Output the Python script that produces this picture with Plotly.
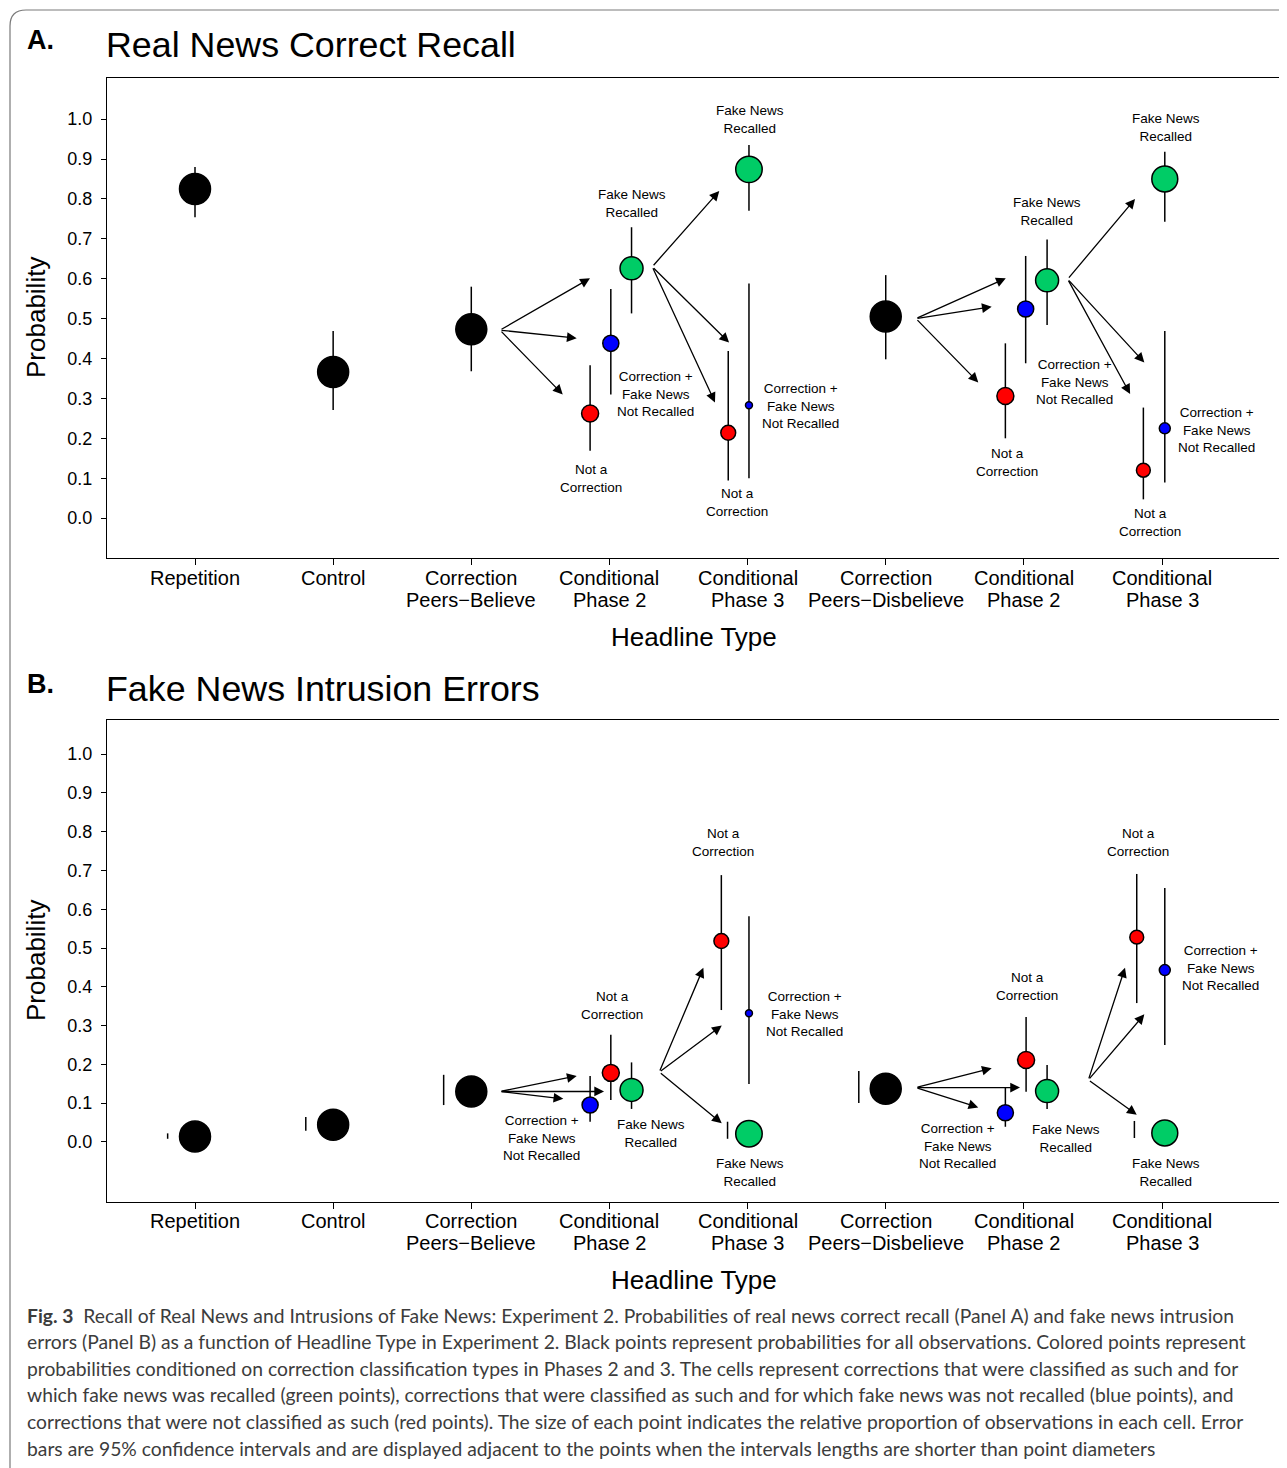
import plotly.graph_objects as go

W, H = 1287, 1468
OFF = 8  # page body margin in the browser

# ---------------- data ----------------
CATEGORIES = ["Repetition", "Control", "Correction<br>Peers\u2212Believe",
              "Conditional<br>Phase 2", "Conditional<br>Phase 3",
              "Correction<br>Peers\u2212Disbelieve", "Conditional<br>Phase 2",
              "Conditional<br>Phase 3"]
Y_TICKS = [0.0, 0.1, 0.2, 0.3, 0.4, 0.5, 0.6, 0.7, 0.8, 0.9, 1.0]

# one entry per point (same cells in both panels)
POINT_CAT = [1, 2, 3, 4, 4, 4, 5, 5, 5, 6, 7, 7, 7, 8, 8, 8]
POINT_TYPE = ["all", "all", "all",
              "notcorr", "notrec", "rec",
              "notcorr", "notrec", "rec",
              "all",
              "notcorr", "notrec", "rec",
              "notcorr", "notrec", "rec"]
# relative proportion of observations in each cell
CELL_SHARE = [1.0, 1.0, 1.0,
              0.30, 0.27, 0.55,
              0.23, 0.05, 0.73,
              1.0,
              0.30, 0.27, 0.55,
              0.20, 0.126, 0.70]

# Panel A: real news correct recall
A_PROB = [0.825, 0.366, 0.473, 0.262, 0.438, 0.626, 0.214, 0.283, 0.874,
          0.505, 0.306, 0.524, 0.596, 0.120, 0.225, 0.850]
A_LO = [0.754, 0.271, 0.368, 0.169, 0.310, 0.513, 0.094, 0.100, 0.770,
        0.398, 0.200, 0.388, 0.484, 0.047, 0.089, 0.743]
A_HI = [0.880, 0.469, 0.580, 0.383, 0.574, 0.729, 0.419, 0.588, 0.935,
        0.609, 0.438, 0.657, 0.698, 0.277, 0.469, 0.918]

# Panel B: fake news intrusion errors
B_PROB = [0.014, 0.044, 0.130, 0.178, 0.095, 0.134, 0.518, 0.332, 0.021,
          0.137, 0.211, 0.075, 0.131, 0.528, 0.443, 0.023]
B_LO = [0.008, 0.029, 0.095, 0.108, 0.052, 0.085, 0.340, 0.149, 0.008,
        0.100, 0.129, 0.039, 0.085, 0.358, 0.250, 0.010]
B_HI = [0.022, 0.064, 0.173, 0.276, 0.170, 0.205, 0.688, 0.582, 0.052,
        0.183, 0.322, 0.139, 0.198, 0.691, 0.655, 0.054]

# ---------------- layout helpers (positions / styles) ----------------
A_XOFF = [0, 0, 0, -0.14, 0.01, 0.16, -0.14, 0.01, 0.01,
          0, -0.134, 0.013, 0.168, -0.135, 0.02, 0.02]
A_BAR_XOFF = [0] * 16
B_XOFF = [0, 0, 0, 0.01, -0.14, 0.16, -0.19, 0.01, 0.01,
          0, 0.016, -0.134, 0.168, -0.183, 0.02, 0.02]
B_BAR_XOFF = [-0.198, -0.198, -0.2, 0, 0, 0, 0, 0, -0.145,
              -0.195, 0, 0, 0, 0, 0, -0.2]

COLORS = {"all": "#000000", "rec": "#00CC66", "notrec": "#0000FF", "notcorr": "#FF0000"}
BASE_SIZE = 31

FNR = "Fake News<br>Recalled"
CFN = "Correction +<br>Fake News<br>Not Recalled"
NAC = "Not a<br>Correction"

# arrows: (tail_x, tail_y, head_x, head_y)
ARROWS_A = [(3.208, 0.471, 3.859, 0.601), (3.208, 0.471, 3.763, 0.451),
            (3.208, 0.471, 3.662, 0.310),
            (4.310, 0.630, 4.795, 0.820), (4.310, 0.630, 4.866, 0.440),
            (4.310, 0.630, 4.764, 0.290),
            (6.219, 0.500, 6.869, 0.601), (6.219, 0.500, 6.767, 0.530),
            (6.219, 0.500, 6.670, 0.340),
            (7.317, 0.599, 7.805, 0.800), (7.317, 0.599, 7.872, 0.390),
            (7.317, 0.599, 7.769, 0.311)]
ARROWS_B = [(3.208, 0.130, 3.763, 0.170), (3.208, 0.130, 3.961, 0.130),
            (3.208, 0.130, 3.666, 0.111),
            (4.361, 0.180, 4.680, 0.449), (4.361, 0.180, 4.813, 0.300),
            (4.361, 0.180, 4.813, 0.048),
            (6.219, 0.140, 6.767, 0.190), (6.219, 0.140, 6.972, 0.140),
            (6.219, 0.140, 6.670, 0.089),
            (7.467, 0.160, 7.732, 0.449), (7.467, 0.160, 7.872, 0.329),
            (7.467, 0.160, 7.817, 0.070)]

LABELS_A = [(FNR, 4.163, 0.789), (CFN, 4.33, 0.311), (NAC, 3.867, 0.100),
            (FNR, 5.018, 1.000), (CFN, 5.38, 0.281), (NAC, 4.924, 0.040),
            (FNR, 7.168, 0.769), (CFN, 7.363, 0.341), (NAC, 6.878, 0.140),
            (FNR, 8.029, 0.980), (CFN, 8.391, 0.221), (NAC, 7.913, -0.010)]
LABELS_B = [(NAC, 4.019, 0.351), (CFN, 3.505, 0.010), (FNR, 4.301, 0.021),
            (NAC, 4.822, 0.771), (CFN, 5.409, 0.330), (FNR, 5.018, -0.080),
            (NAC, 7.023, 0.400), (CFN, 6.516, -0.010), (FNR, 7.305, 0.010),
            (NAC, 7.826, 0.771), (CFN, 8.420, 0.448), (FNR, 8.029, -0.080)]

CAPTION = [
    "<b>Fig. 3</b>  Recall of Real News and Intrusions of Fake News: Experiment 2. Probabilities of real news correct recall (Panel A) and fake news intrusion",
    "errors (Panel B) as a function of Headline Type in Experiment 2. Black points represent probabilities for all observations. Colored points represent",
    "probabilities conditioned on correction classification types in Phases 2 and 3. The cells represent corrections that were classified as such and for",
    "which fake news was recalled (green points), corrections that were classified as such and for which fake news was not recalled (blue points), and",
    "corrections that were not classified as such (red points). The size of each point indicates the relative proportion of observations in each cell. Error",
    "bars are 95% confidence intervals and are displayed adjacent to the points when the intervals lengths are shorter than point diameters",
]

FONT = "Liberation Sans, Arial, sans-serif"
CAP_FONT = "Lato, Noto Sans, sans-serif"

FW, FH = W - OFF, H - OFF
fig = go.Figure()


def px2x(p):
    return (p - OFF) / FW


def px2y(p):
    return 1 - (p - OFF) / FH


def add_panel(prob, lo, hi, xoff, baroff, xa, ya):
    ex, ey = [], []
    for c, l, h, bo, po in zip(POINT_CAT, lo, hi, baroff, xoff):
        xb = c + (bo if bo != 0 else po)
        ex += [xb, xb, None]
        ey += [l, h, None]
    fig.add_trace(go.Scatter(x=ex, y=ey, mode="lines", xaxis=xa, yaxis=ya,
                             line=dict(color="black", width=1.5),
                             hoverinfo="skip", showlegend=False))
    px = [c + o for c, o in zip(POINT_CAT, xoff)]
    sizes = [BASE_SIZE * s ** 0.5 for s in CELL_SHARE]
    cols = [COLORS[t] for t in POINT_TYPE]
    fig.add_trace(go.Scatter(x=px, y=prob, mode="markers", xaxis=xa, yaxis=ya,
                             marker=dict(size=sizes, color=cols, opacity=1,
                                         line=dict(color="black", width=1.5)),
                             hoverinfo="skip", showlegend=False))


add_panel(A_PROB, A_LO, A_HI, A_XOFF, A_BAR_XOFF, "x", "y")
add_panel(B_PROB, B_LO, B_HI, B_XOFF, B_BAR_XOFF, "x2", "y2")

ann = []
for arrows, xr, yr in ((ARROWS_A, "x", "y"), (ARROWS_B, "x2", "y2")):
    for tx, ty, hx, hy in arrows:
        ann.append(dict(x=hx, y=hy, ax=tx, ay=ty, xref=xr, yref=yr,
                        axref=xr, ayref=yr, text="", showarrow=True,
                        arrowhead=2, arrowsize=1.5, arrowwidth=1.3,
                        arrowcolor="black", standoff=0, startstandoff=0))
for labels, xr, yr in ((LABELS_A, "x", "y"), (LABELS_B, "x2", "y2")):
    for t, x, y in labels:
        ann.append(dict(x=x, y=y, xref=xr, yref=yr, text=t, showarrow=False,
                        font=dict(family=FONT, size=13.5, color="black"),
                        xanchor="center", yanchor="middle", align="center"))

# category labels (two lines, tight spacing) under each panel
for xr, y1 in (("x", 578), ("x2", 1221)):
    for i, cat in enumerate(CATEGORIES):
        for j, part in enumerate(cat.split("<br>")):
            ann.append(dict(x=i + 1, y=px2y(y1 + 22 * j), xref=xr, yref="paper",
                            text=part, showarrow=False, xanchor="center",
                            yanchor="middle", borderpad=0,
                            font=dict(family=FONT, size=20, color="black")))

# panel letters and titles
for letter, title, yc in (("A.", "Real News Correct Recall", 40), ("B.", "Fake News Intrusion Errors", 684)):
    ann.append(dict(x=px2x(26), y=px2y(yc), xref="paper", yref="paper", text="<b>%s</b>" % letter,
                    showarrow=False, xanchor="left", yanchor="middle", borderpad=0,
                    font=dict(family=FONT, size=27, color="black")))
    ann.append(dict(x=px2x(105), y=px2y(yc + 5), xref="paper", yref="paper", text=title,
                    showarrow=False, xanchor="left", yanchor="middle", borderpad=0,
                    font=dict(family=FONT, size=35.8, color="black")))

# axis titles
for yc, xt in ((318, 637), (961, 1280)):
    ann.append(dict(x=px2x(36), y=px2y(yc), xref="paper", yref="paper", text="Probability",
                    showarrow=False, textangle=-90, xanchor="center", yanchor="middle",
                    font=dict(family=FONT, size=26, color="black")))
    ann.append(dict(x=px2x(693.5), y=px2y(xt), xref="paper", yref="paper", text="Headline Type",
                    showarrow=False, xanchor="center", yanchor="middle",
                    font=dict(family=FONT, size=26, color="black")))

# caption
for i, line in enumerate(CAPTION):
    ann.append(dict(x=px2x(26), y=px2y(1315 + i * 26.6), xref="paper", yref="paper",
                    text=line, showarrow=False, xanchor="left", yanchor="middle", borderpad=0,
                    font=dict(family=CAP_FONT, size=19.3, color="#3c3c3c")))

xdom = [px2x(107), px2x(1280)]
common_x = dict(range=[0.363, 8.854], tickvals=list(range(1, 9)),
                ticktext=[""] * len(CATEGORIES),
                ticks="outside", ticklen=6, tickwidth=1, tickcolor="black",
                showline=True, linecolor="black", linewidth=1, mirror=True,
                showgrid=False, zeroline=False, domain=xdom)
common_y = dict(tickvals=Y_TICKS, tickformat=".1f", ticks="outside", ticklen=5,
                tickwidth=1, tickcolor="black", showline=True, linecolor="black",
                linewidth=1, mirror=True, showgrid=False, zeroline=False,
                ticklabelstandoff=5,
                tickfont=dict(family=FONT, size=18, color="black"))

fig.update_layout(
    width=FW, height=FH,
    margin=dict(l=0, r=0, t=0, b=0),
    paper_bgcolor="white", plot_bgcolor="white",
    showlegend=False,
    xaxis=dict(common_x, anchor="y"),
    yaxis=dict(common_y, range=[-0.1, 1.103], domain=[px2y(558), px2y(78)], anchor="x"),
    xaxis2=dict(common_x, anchor="y2"),
    yaxis2=dict(common_y, range=[-0.155, 1.088], domain=[px2y(1202), px2y(720)], anchor="x2"),
    annotations=ann,
    shapes=[dict(type="path", xref="paper", yref="paper",
                 path="M %f,%f L %f,%f Q %f,%f %f,%f L %f,%f" % (
                     px2x(1290), px2y(10), px2x(26), px2y(10), px2x(10), px2y(10),
                     px2x(10), px2y(26), px2x(10), px2y(1470)),
                 line=dict(color="#7a7a7a", width=1.2))],
)

fig.write_html("out.html", config={"displayModeBar": False})
